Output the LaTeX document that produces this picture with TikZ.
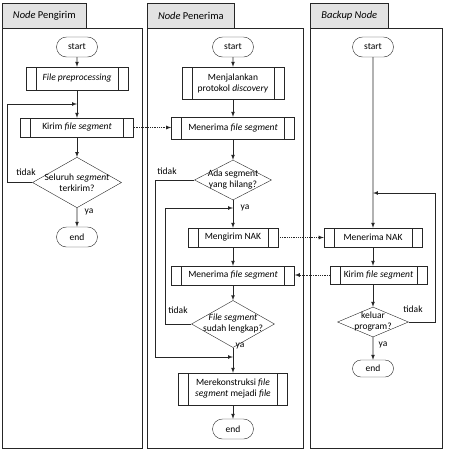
\documentclass[tikz,border=0pt]{standalone}
\usepackage{fontspec}
\setmainfont{Carlito}
\usetikzlibrary{shapes.geometric,shapes.misc,calc}

\tikzset{
  every node/.style={font=\fontsize{9.5}{11}\selectfont},
  lane/.style={draw=black!85, line width=0.7pt},
  lanehead/.style={draw=black!85, line width=0.7pt, fill=gray!22, anchor=north west, minimum height=25pt, font=\fontsize{10.5}{12}\selectfont},
  term/.style={draw=black!85, rounded rectangle, minimum width=43pt, minimum height=20pt, inner sep=1pt},
  proc/.style={draw=black!85, rectangle, align=center, inner sep=1pt,
    path picture={
      \draw[black!85] ([xshift=10pt]path picture bounding box.north west) -- ([xshift=10pt]path picture bounding box.south west);
      \draw[black!85] ([xshift=-10pt]path picture bounding box.north east) -- ([xshift=-10pt]path picture bounding box.south east);
    }},
  decide/.style={draw=black!85, diamond, align=center, inner xsep=-12pt, inner ysep=-4pt},
  flow/.style={draw=black!85, -latex, line width=0.7pt},
  msg/.style={draw=black!85, -latex, densely dotted, line width=0.8pt},
  lbl/.style={inner sep=0pt}
}

\begin{document}
\begin{tikzpicture}[x=1pt,y=1pt]
\useasboundingbox (0,0) rectangle (448,-456);

% lanes
\draw[lane] (2,-28) rectangle (142,-448);
\draw[lane] (147,-28) rectangle (303,-448);
\draw[lane] (310,-28) rectangle (442,-448);
\node[lanehead, minimum width=84pt] (h1) at (2,-3) {\textit{Node} Pengirim};
\node[lanehead, minimum width=87pt] (h2) at (147,-3) {\textit{Node} Penerima};
\node[lanehead, minimum width=78pt] (h3) at (310,-3) {\textit{Backup Node}};

% Node Pengirim
\node[term] (s1) at (77,-47) {start};
\node[proc, minimum width=102pt, minimum height=23pt] (p1) at (77,-78.5) {\textit{File preprocessing}};
\node[proc, minimum width=113pt, minimum height=19pt] (p2) at (77,-127.5) {Kirim \textit{file segment}};
\node[decide, minimum width=89pt, minimum height=41pt] (d1) at (77,-182.5) {Seluruh \textit{segment}\\terkirim?};
\node[term] (e1) at (77,-237) {end};
\coordinate (j1) at (77,-104);

\draw[flow] (s1) -- (p1);
\draw[flow] (p1) -- (p2);
\draw[flow] (p2) -- (d1);
\draw[flow] (d1) -- (e1);
\draw[flow] (d1.west) -| ([xshift=-70pt]j1) -- (j1);
\node[lbl] at (26,-172) {tidak};
\node[lbl] at (89,-212) {ya};

% Node Penerima
\node[term] (s2) at (233,-47) {start};
\node[proc, minimum width=102pt, minimum height=32pt] (p3) at (233,-83) {Menjalankan\\protokol \textit{discovery}};
\node[proc, minimum width=123pt, minimum height=22pt] (p4) at (233,-128) {Menerima \textit{file segment}};
\node[decide, minimum width=77pt, minimum height=40pt] (d2) at (233,-180) {Ada segment\\yang hilang?};
\node[proc, minimum width=90pt, minimum height=19pt] (p5) at (233,-237.5) {Mengirim NAK};
\node[proc, minimum width=123pt, minimum height=19pt] (p6) at (233,-275.5) {Menerima \textit{file segment}};
\node[decide, minimum width=83pt, minimum height=42pt] (d3) at (233,-324) {\textit{File segment}\\sudah lengkap?};
\node[proc, minimum width=109pt, minimum height=32pt] (p7) at (233,-389) {Merekonstruksi \textit{file}\\\textit{segment} mejadi \textit{file}};
\node[term] (e2) at (233,-429) {end};
\coordinate (j2) at (233,-208);
\coordinate (j3) at (233,-357);

\draw[flow] (s2) -- (p3);
\draw[flow] (p3) -- (p4);
\draw[flow] (p4) -- (d2);
\draw[flow] (d2) -- (p5);
\draw[flow] (p5) -- (p6);
\draw[flow] (p6) -- (d3);
\draw[flow] (d3) -- (p7);
\draw[flow] (p7) -- (e2);
\draw[flow] (d2.west) -| ([xshift=-78pt]j3) -- (j3);
\draw[flow] (d3.west) -| ([xshift=-68pt]j2) -- (j2);
\node[lbl] at (167,-171) {tidak};
\node[lbl] at (245,-208) {ya};
\node[lbl] at (178,-310) {tidak};
\node[lbl] at (240,-346) {ya};

% Backup Node
\node[term] (s3) at (373,-47) {start};
\node[proc, minimum width=98pt, minimum height=19pt] (p8) at (373,-237.5) {Menerima NAK};
\node[proc, minimum width=97pt, minimum height=18pt] (p9) at (378.5,-275) {Kirim \textit{file segment}};
\node[decide, minimum width=71pt, minimum height=30pt] (d4) at (373,-322) {keluar\\program?};
\node[term, minimum height=17pt] (e3) at (373,-368.5) {end};
\coordinate (j4) at (373,-193);

\draw[flow] (s3) -- (p8);
\draw[flow] (p8.south) -- (p8.south |- p9.north);
\draw[flow] (p8.south |- p9.south) -- (d4);
\draw[flow] (d4) -- (e3);
\draw[flow] (d4.east) -| ([xshift=62pt]j4) -- (j4);
\node[lbl] at (413,-309) {tidak};
\node[lbl] at (383,-345) {ya};

% pesan antar node
\draw[msg] (p2.east) -- (p2.east -| p4.west);
\draw[msg] (p5.east) -- (p5.east -| p8.west);
\draw[msg] (p9.west) -- (p9.west -| p6.east);
\end{tikzpicture}
\end{document}
